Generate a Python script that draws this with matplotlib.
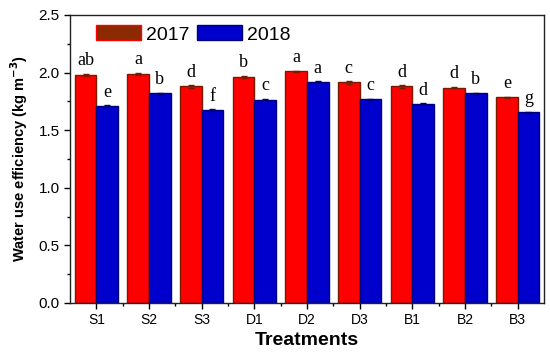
import matplotlib
matplotlib.use("Agg")
import matplotlib.pyplot as plt
import numpy as np
from matplotlib.patches import Patch
from matplotlib.ticker import MultipleLocator

treatments = ["S1", "S2", "S3", "D1", "D2", "D3", "B1", "B2", "B3"]
wue_2017 = [1.98, 1.99, 1.88, 1.96, 2.01, 1.915, 1.88, 1.87, 1.785]
wue_2018 = [1.71, 1.82, 1.675, 1.765, 1.92, 1.77, 1.73, 1.82, 1.655]
err_2017 = [0.01, 0.01, 0.01, 0.01, 0.005, 0.01, 0.01, 0.005, 0.005]
err_2018 = [0.005, 0.005, 0.005, 0.005, 0.005, 0.005, 0.005, 0.005, 0.005]
letters_2017 = ["ab", "a", "d", "b", "a", "c", "d", "d", "e"]
letters_2018 = ["e", "b", "f", "c", "a", "c", "d", "b", "g"]

plt.rcParams['font.family'] = ['Liberation Sans', 'DejaVu Sans']

fig = plt.figure(figsize=(5.5, 3.53), dpi=100)
ax = fig.add_axes([70/550, 1-303/353, (544-70)/550, (303-15)/353])

x = np.arange(1, len(treatments) + 1)
w = 0.41
red = "#FF0000"
blue = "#0000CC"
ax.bar(x - w/2, wue_2017, width=w, color=red, edgecolor="#7A1A00", linewidth=1.0,
       yerr=err_2017, error_kw=dict(ecolor="#7A1A00", capsize=2, elinewidth=0.8), zorder=2)
ax.bar(x + w/2, wue_2018, width=w, color=blue, edgecolor="#00007A", linewidth=1.0,
       yerr=err_2018, error_kw=dict(ecolor="#00007A", capsize=2, elinewidth=0.8), zorder=2)

for xi, v, e, lab in zip(x, wue_2017, err_2017, letters_2017):
    ax.text(xi - w/2, v + e + 0.04, lab, ha="center", va="bottom",
            fontsize=13, family="Liberation Serif")
for xi, v, e, lab in zip(x, wue_2018, err_2018, letters_2018):
    ax.text(xi + w/2, v + e + 0.04, lab, ha="center", va="bottom",
            fontsize=13, family="Liberation Serif")

ax.set_xlim(0.5, 9.5)
ax.set_ylim(0, 2.5)
ax.set_xticks(x)
ax.set_xticklabels(treatments, fontsize=10)
ax.xaxis.set_minor_locator(matplotlib.ticker.FixedLocator(np.arange(1.5, 9.5, 1)))
ax.yaxis.set_major_locator(MultipleLocator(0.5))
ax.yaxis.set_minor_locator(MultipleLocator(0.25))
ax.yaxis.set_major_formatter(matplotlib.ticker.FormatStrFormatter('%.1f'))
ax.tick_params(axis='y', labelsize=11)
ax.tick_params(which='major', direction='out', length=4, width=1)
ax.tick_params(which='minor', direction='out', length=2.5, width=1)
for s in ax.spines.values():
    s.set_linewidth(1.0)
    s.set_color("#222222")

ax.set_xlabel("Treatments", fontsize=14, fontweight="bold", labelpad=3)
ax.set_ylabel("Water use efficiency (kg m$^{\\mathbf{-3}}$)", fontsize=10.5, fontweight="bold", labelpad=6)

handles = [Patch(facecolor="#8B2A00", edgecolor="#FF0000", linewidth=1.0, label="2017"),
           Patch(facecolor=blue, edgecolor="#00007A", linewidth=1.0, label="2018")]
ax.legend(handles=handles, ncol=2, frameon=False, fontsize=14, loc="center left",
          bbox_to_anchor=(0.055, 0.932), handlelength=2.3, handleheight=0.8,
          columnspacing=0.4, handletextpad=0.26, borderpad=0, borderaxespad=0)

fig.savefig("out.png", dpi=100)
